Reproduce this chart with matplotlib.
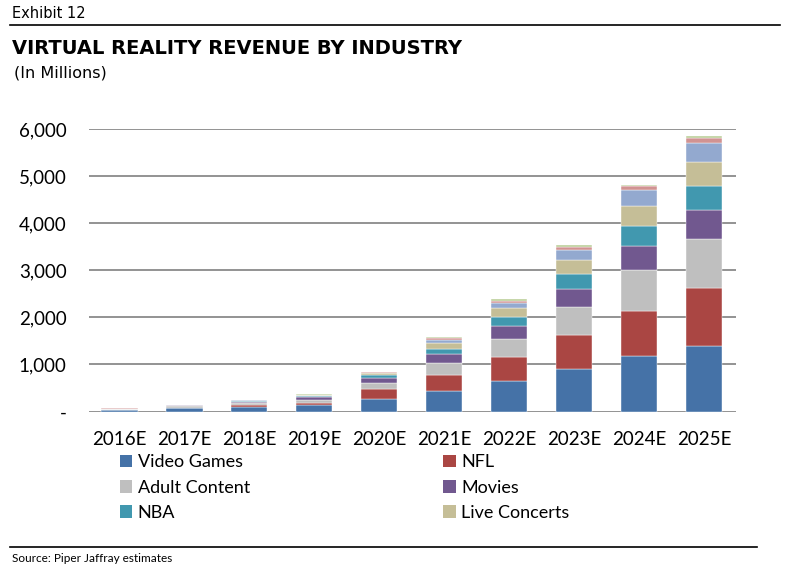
import numpy as np
import matplotlib
matplotlib.use("Agg")
import matplotlib.pyplot as plt
from matplotlib.patches import Patch
from matplotlib.ticker import FuncFormatter

# ─── Data ($ millions) ──────────────────────────────────────────────────
years = ["2016E", "2017E", "2018E", "2019E", "2020E",
         "2021E", "2022E", "2023E", "2024E", "2025E"]

video_games   = [30, 70, 105, 145, 270, 435, 645, 900, 1170, 1400]
nfl           = [10, 15, 25, 35, 200, 330, 505, 715, 960, 1225]
adult_content = [10, 25, 45, 55, 135, 265, 390, 605, 870, 1045]
movies        = [8, 20, 35, 70, 115, 190, 275, 390, 510, 610]
nba           = [3, 5, 10, 20, 50, 115, 185, 305, 425, 510]
live_concerts = [2, 5, 10, 20, 40, 120, 200, 300, 425, 510]
other_a       = [1, 3, 5, 10, 15, 65, 105, 210, 335, 400]
other_b       = [1, 2, 3, 5, 10, 35, 50, 70, 90, 105]
other_c       = [0, 1, 2, 3, 5, 20, 30, 35, 30, 45]

series = [
    ("Video Games", video_games, "#4572A7"),
    ("NFL", nfl, "#AA4643"),
    ("Adult Content", adult_content, "#BFBFBF"),
    ("Movies", movies, "#71588F"),
    ("NBA", nba, "#4198AF"),
    ("Live Concerts", live_concerts, "#C5BE97"),
    (None, other_a, "#93A9CF"),
    (None, other_b, "#D19392"),
    (None, other_c, "#B9CD96"),
]

yticks = [0, 1000, 2000, 3000, 4000, 5000, 6000]

plt.rcParams["font.family"] = ["Lato", "DejaVu Sans"]

fig = plt.figure(figsize=(8.0, 5.77), dpi=100)
ax = fig.add_axes([0.111, 0.2868, 0.809, 0.4896])

x = np.arange(len(years))
bottom = np.zeros(len(years))
for name, vals, col in series:
    vals = np.array(vals, dtype=float)
    ax.bar(x, vals, width=0.56, bottom=bottom, color=col,
           edgecolor="white", linewidth=0.3, zorder=3)
    bottom += vals

ax.set_xlim(-0.47, 9.49)
ax.set_ylim(0, 6000)
ax.set_yticks(yticks)
ax.yaxis.set_major_formatter(
    FuncFormatter(lambda v, p: "-" if v == 0 else f"{int(v):,}"))
ax.set_xticks(x)
ax.set_xticklabels(years)
ax.grid(axis="y", color="#8a8a8a", linewidth=1.3, zorder=0)
for s in ["top", "right", "left", "bottom"]:
    ax.spines[s].set_visible(False)
ax.tick_params(axis="both", length=0, labelsize=13.5, colors="black")
ax.tick_params(axis="x", pad=14)
ax.tick_params(axis="y", pad=16)

# Legend (only six labelled series, row-major in the reference)
h = {name: Patch(facecolor=col, edgecolor="none") for name, _, col in series if name}
order = ["Video Games", "Adult Content", "NBA", "NFL", "Movies", "Live Concerts"]
fig.legend([h[n] for n in order], order, ncol=2, loc="upper left",
           bbox_to_anchor=(0.1405, 1 - 447 / 577), frameon=False,
           fontsize=13, handlelength=0.7, handleheight=0.7,
           handletextpad=0.3, columnspacing=10.7, labelspacing=0.52,
           borderaxespad=0)

# Header / footer
fig.text(12 / 800, 1 - 14 / 577, "Exhibit 12", fontsize=10.5, va="center",
         family=["DejaVu Sans"])
fig.add_artist(plt.Line2D([10 / 800, 780 / 800], [1 - 25 / 577] * 2,
                          color="black", linewidth=1.2))
fig.text(12 / 800, 1 - 49 / 577, "VIRTUAL REALITY REVENUE BY INDUSTRY",
         fontsize=14, fontweight="bold", va="center",
         family=["DejaVu Sans"])
fig.text(14 / 800, 1 - 73 / 577, "(In Millions)", fontsize=11.5, va="center",
         family=["DejaVu Sans"])
fig.add_artist(plt.Line2D([10 / 800, 757 / 800], [1 - 547 / 577] * 2,
                          color="black", linewidth=1.2))
fig.text(12 / 800, 1 - 559 / 577, "Source: Piper Jaffray estimates",
         fontsize=8.5, va="center")

fig.savefig("out.png", dpi=100)
